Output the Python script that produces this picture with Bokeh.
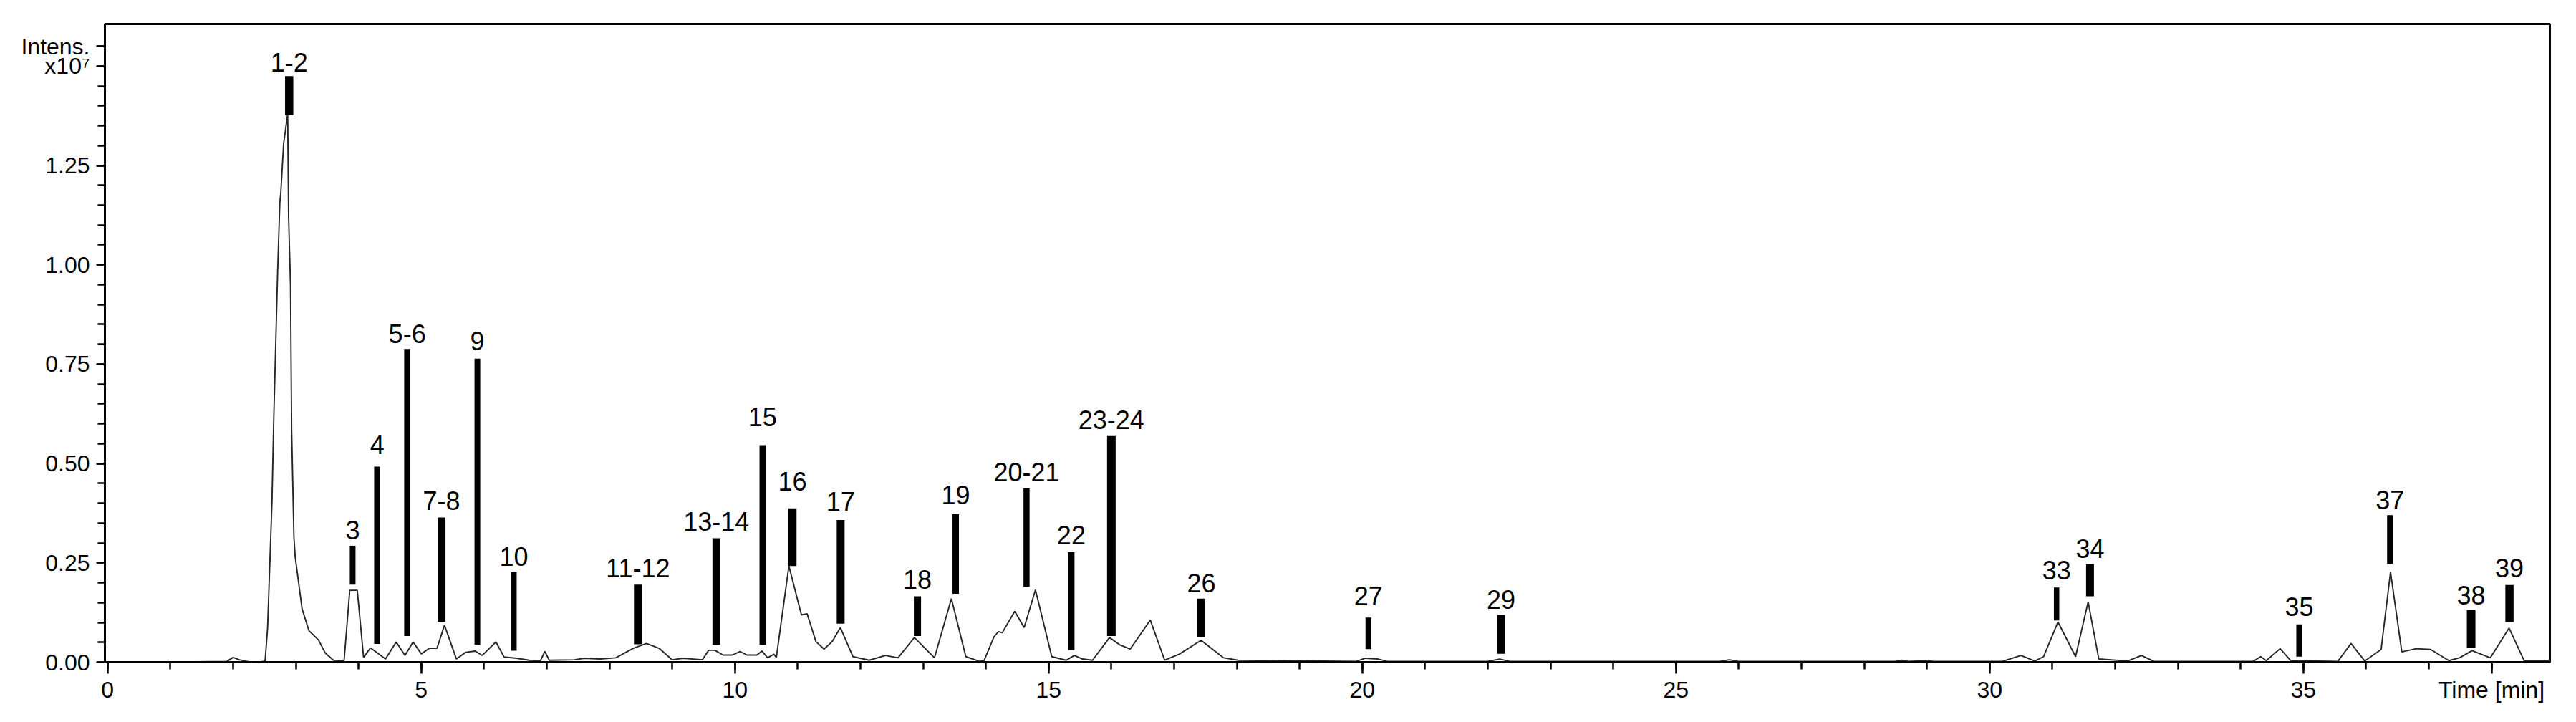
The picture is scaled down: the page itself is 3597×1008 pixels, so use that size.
from bokeh.plotting import figure
from bokeh.models import ColumnDataSource, Range1d, FixedTicker, NumeralTickFormatter
from bokeh.embed import file_html
from bokeh.resources import INLINE
from bokeh.core.properties import value

# ---------------- data ----------------
time_min = [0.00, 1.00, 1.90, 2.00, 2.10, 2.25, 2.45, 2.51, 2.55, 2.62, 2.65, 2.71, 2.745, 2.76,
            2.806, 2.87, 2.885, 2.915, 2.933, 2.97, 2.99, 3.10, 3.21, 3.36, 3.47, 3.60, 3.73,
            3.77, 3.86, 3.98, 4.08, 4.19, 4.43, 4.60, 4.74, 4.87, 5.00, 5.13, 5.25, 5.37, 5.56,
            5.71, 5.86, 5.97, 6.19, 6.32, 6.52, 6.72, 6.90, 6.97, 7.04, 7.44, 7.60, 7.85, 8.10,
            8.38, 8.59, 8.79, 9.00, 9.17, 9.48, 9.58, 9.68, 9.81, 9.96, 10.08, 10.19, 10.35,
            10.43, 10.52, 10.62, 10.66, 10.86, 11.06, 11.15, 11.29, 11.42, 11.55, 11.68, 11.88,
            12.14, 12.40, 12.60, 12.86, 13.18, 13.45, 13.68, 13.90, 13.97, 14.13, 14.20, 14.26,
            14.46, 14.61, 14.79, 15.05, 15.28, 15.41, 15.54, 15.70, 15.97, 16.13, 16.30, 16.62,
            16.85, 17.08, 17.43, 17.79, 18.02, 19.90, 20.05, 20.25, 20.40, 22.00, 22.19, 22.35,
            25.70, 25.85, 26.00, 28.50, 28.60, 28.70, 29.00, 29.10, 30.20, 30.50, 30.72, 30.86,
            31.09, 31.37, 31.57, 31.74, 32.20, 32.42, 32.62, 34.20, 34.32, 34.41, 34.63, 34.80,
            35.55, 35.76, 35.98, 36.24, 36.39, 36.57, 36.80, 37.03, 37.32, 37.49, 37.69, 37.98,
            38.28, 38.52, 38.93]
intensity = [0.000, 0.000, 0.002, 0.012, 0.006, 0.001, 0.001, 0.003, 0.086, 0.404, 0.623, 0.982, 1.156, 1.18,
             1.305, 1.38, 1.12, 0.95, 0.585, 0.314, 0.265, 0.134, 0.079, 0.056, 0.023, 0.005, 0.004,
             0.005, 0.181, 0.181, 0.012, 0.036, 0.008, 0.051, 0.017, 0.051, 0.021, 0.035, 0.035, 0.093, 0.008,
             0.025, 0.028, 0.017, 0.051, 0.013, 0.010, 0.005, 0.004, 0.027, 0.005, 0.006, 0.010, 0.008, 0.011,
             0.035, 0.047, 0.035, 0.006, 0.010, 0.006, 0.030, 0.030, 0.018, 0.018, 0.027, 0.018, 0.018,
             0.028, 0.011, 0.020, 0.012, 0.242, 0.119, 0.122, 0.052, 0.033, 0.052, 0.087, 0.014,
             0.005, 0.017, 0.011, 0.062, 0.011, 0.160, 0.014, 0.002, 0.004, 0.064, 0.077, 0.074,
             0.128, 0.087, 0.182, 0.014, 0.005, 0.017, 0.008, 0.005, 0.062, 0.044, 0.033, 0.106,
             0.005, 0.020, 0.055, 0.011, 0.005, 0.002, 0.010, 0.008, 0.002, 0.002, 0.008, 0.002,
             0.002, 0.006, 0.002, 0.002, 0.005, 0.002, 0.004, 0.002, 0.002, 0.017, 0.003, 0.014,
             0.101, 0.014, 0.152, 0.008, 0.003, 0.017, 0.002, 0.002, 0.014, 0.004, 0.034, 0.004,
             0.002, 0.047, 0.003, 0.032, 0.227, 0.026, 0.034, 0.032, 0.004, 0.011, 0.029, 0.011,
             0.086, 0.004, 0.004]

peak_labels = ["1-2", "3", "4", "5-6", "7-8", "9", "10", "11-12", "13-14", "15", "16", "17", "18",
               "19", "20-21", "22", "23-24", "26", "27", "29", "33", "34", "35", "37", "38", "39"]
peak_time = [2.894, 3.906, 4.297, 4.776, 5.323, 5.894, 6.475, 8.453, 9.704, 10.44, 10.916, 11.685,
             12.909, 13.519, 14.648, 15.361, 16.0, 17.434, 20.097, 22.213, 31.067, 31.6, 34.934,
             36.381, 37.675, 38.286]
bar_bottom = [1.376, 0.195, 0.046, 0.066, 0.102, 0.044, 0.029, 0.045, 0.044, 0.044, 0.242, 0.097,
              0.066, 0.172, 0.190, 0.030, 0.066, 0.062, 0.033, 0.021, 0.105, 0.166, 0.014, 0.248,
              0.037, 0.101]
bar_top = [1.475, 0.293, 0.492, 0.788, 0.364, 0.764, 0.226, 0.195, 0.312, 0.546, 0.387, 0.358,
           0.166, 0.372, 0.437, 0.277, 0.569, 0.160, 0.112, 0.119, 0.188, 0.247, 0.095, 0.370,
           0.131, 0.194]
# intensity at the vertical middle of each peak label
label_level = [1.509, 0.332, 0.547, 0.827, 0.406, 0.808, 0.266, 0.237, 0.354, 0.618, 0.455, 0.404,
               0.209, 0.420, 0.478, 0.320, 0.611, 0.199, 0.167, 0.157, 0.232, 0.285, 0.139, 0.408,
               0.169, 0.2365]

# axis ticks and their texts
x_major = [0, 5, 10, 15, 20, 25, 30, 35, 38]
x_minor = list(range(0, 39))
x_texts = {38: "Time [min]"}
y_major = [0.0, 0.25, 0.5, 0.75, 1.0, 1.25, 1.5, 1.55]
y_minor = [round(0.05 * i, 2) for i in range(0, 32)]
y_texts = {1.5: "x10\u2077", 1.55: "Intens."}

# ---------------- style ----------------
bar_px = [11.5, 8, 8.5, 8.5, 11, 8, 8, 11, 11, 8.5, 11.5, 11, 10, 9, 8.5, 9, 12, 11, 8, 11, 7.5,
          11, 8, 8, 12, 11.5]
FONT = "Liberation Sans"

p = figure(width=3590, height=1000, output_backend="svg", toolbar_location=None,
           x_range=Range1d(-0.043, 38.93), y_range=Range1d(0, 1.606),
           min_border_left=146, min_border_right=30, min_border_top=33, min_border_bottom=76,
           background_fill_color="white", border_fill_color="white")
p.xgrid.visible = False
p.ygrid.visible = False
p.outline_line_color = "black"
p.outline_line_width = 3

# axes
p.xaxis.ticker = FixedTicker(ticks=x_major, minor_ticks=x_minor)
p.xaxis.major_label_overrides = x_texts
p.yaxis.ticker = FixedTicker(ticks=y_major, minor_ticks=y_minor)
p.yaxis.formatter = NumeralTickFormatter(format="0.00")
p.yaxis.major_label_overrides = y_texts
for ax in (p.xaxis[0], p.yaxis[0]):
    ax.axis_line_width = 3
    ax.axis_line_color = "black"
    ax.major_tick_line_width = 2.5
    ax.minor_tick_line_width = 2.5
    ax.major_tick_line_color = "black"
    ax.minor_tick_line_color = "black"
    ax.major_tick_in = 0
    ax.minor_tick_in = 0
    ax.major_label_text_font = FONT
    ax.major_label_text_font_size = "32px"
    ax.major_label_text_color = "black"
p.xaxis.major_tick_out = 16
p.xaxis.minor_tick_out = 10
p.xaxis.major_label_standoff = 4
p.yaxis.major_tick_out = 12
p.yaxis.minor_tick_out = 10
p.yaxis.major_label_standoff = 9

# trace
p.line(time_min, intensity, line_color="#262626", line_width=1.9)

# peak markers
src = ColumnDataSource(dict(t=peak_time, lo=bar_bottom, hi=bar_top, w=bar_px,
                            lab=peak_labels, ly=label_level))
p.segment(x0="t", y0="lo", x1="t", y1="hi", line_width="w", line_color="black",
          line_cap="butt", source=src)
p.text(x="t", y="ly", text="lab", text_align="center", text_baseline="middle",
       text_font=value(FONT), text_font_size=value("36px"), text_color="black", source=src)

open("out.html", "w").write(file_html(p, INLINE))
